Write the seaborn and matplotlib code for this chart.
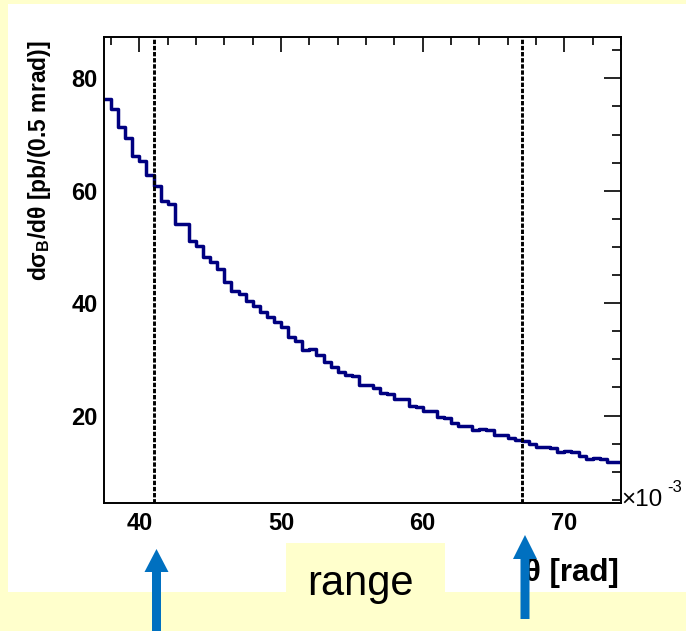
import numpy as np
import pandas as pd
import matplotlib
matplotlib.use("Agg")
import matplotlib.pyplot as plt
import seaborn as sns
from matplotlib.patches import Rectangle, Polygon
from matplotlib.ticker import FixedLocator, MultipleLocator

# ---------------- data ----------------
theta_start = 37.5      # x10^-3 rad
bin_width = 0.5         # mrad
dsigma = [76.3, 74.5, 71.4, 69.4, 66.2, 65.3, 62.8, 60.9, 58.2, 57.6,
          54.1, 54.0, 51.1, 50.2, 48.3, 47.3, 46.0, 43.8, 42.2, 41.6,
          40.3, 39.5, 38.4, 37.5, 36.6, 35.7, 34.0, 33.3, 31.6, 31.9,
          30.8, 29.6, 28.6, 27.8, 27.3, 27.0, 25.5, 25.4, 24.9, 24.0,
          23.9, 23.0, 22.9, 21.7, 21.6, 20.9, 20.8, 19.8, 19.6, 18.7,
          18.2, 18.1, 17.4, 17.7, 17.5, 16.6, 16.5, 16.1, 15.7, 15.4,
          14.9, 14.5, 14.4, 14.2, 13.5, 13.75, 13.5, 12.9, 12.35, 12.5,
          12.2, 11.8, 11.8]
cut_lines = [41.0, 67.0]
x_ticks = [40, 50, 60, 70]
y_ticks = [20, 40, 60, 80]
x_label = "θ [rad]"
y_label = r"dσ$_\mathbf{B}$/dθ [pb/(0.5 mrad)]"
box_text = "range"

n_bins = len(dsigma)
theta_end = theta_start + bin_width * n_bins
df = pd.DataFrame({"theta": theta_start + bin_width * (np.arange(n_bins) + 0.5),
                   "dsigma": dsigma})

# ---------------- style ----------------
sns.set_theme(style="white")
plt.rcParams["font.family"] = ["Liberation Sans", "DejaVu Sans"]
plt.rcParams["mathtext.fontset"] = "custom"
plt.rcParams["mathtext.rm"] = "Liberation Sans:bold"
plt.rcParams["mathtext.bf"] = "Liberation Sans:bold"
plt.rcParams["mathtext.it"] = "Liberation Sans:bold"

YELLOW = "#FFFFCC"
BLUE = "#0070C0"
NAVY = "#000080"

W, H = 686, 631
fig = plt.figure(figsize=(W / 100, H / 100), dpi=100)
fig.patch.set_facecolor(YELLOW)

def fx(px):
    return px / W

def fy(py):
    return 1 - py / H

# white slide panel
fig.add_artist(Rectangle((fx(8), fy(592)), fx(686) - fx(8), fy(4) - fy(592),
                         transform=fig.transFigure, facecolor="white",
                         edgecolor="none", zorder=-5))

# axes frame
L, R, T, B = 104, 621, 37.3, 503
ax = fig.add_axes([fx(L), fy(B), fx(R) - fx(L), fy(T) - fy(B)])
ax.set_facecolor("white")

sns.histplot(data=df, x="theta", weights="dsigma", bins=n_bins,
             binrange=(theta_start, theta_end),
             element="step", fill=False, color=NAVY, linewidth=2.5, ax=ax)

for c in cut_lines:
    ax.axvline(c, color="black", linewidth=2.1, linestyle=(0, (1.5, 0.6)), zorder=3)

ax.set_xlim(theta_start, theta_end)
ax.set_ylim(4.45, 87.3)
ax.set_xlabel("")
ax.set_ylabel("")

ax.xaxis.set_major_locator(FixedLocator(x_ticks))
ax.xaxis.set_minor_locator(MultipleLocator(2))
ax.yaxis.set_major_locator(FixedLocator(y_ticks))
ax.yaxis.set_minor_locator(MultipleLocator(5))
ax.set_xticklabels([str(t) for t in x_ticks], fontsize=17, fontweight="bold")
ax.set_yticklabels([str(t) for t in y_ticks], fontsize=17, fontweight="bold")

ax.tick_params(axis="both", which="both", direction="in", top=True, right=True,
               color="black", width=1.2, labelcolor="black")
ax.tick_params(axis="x", which="major", length=10.8, pad=6.5)
ax.tick_params(axis="x", which="minor", length=5.5)
ax.tick_params(axis="y", which="major", length=12, pad=4.5)
ax.tick_params(axis="y", which="minor", length=6.5)
for s in ax.spines.values():
    s.set_color("black")
    s.set_linewidth(1.4)
    s.set_visible(True)

# axis titles
fig.text(fx(40), fy(40), y_label, rotation=90, ha="center", va="top",
         fontweight="bold", fontsize=16.5, color="black")
fig.text(fx(619), fy(581), x_label, ha="right", va="baseline",
         fontweight="bold", fontsize=22.5, color="black", zorder=2)

# exponent
fig.text(fx(621), fy(506), "×10", ha="left", va="baseline", fontsize=17.5,
         color="black")
fig.text(fx(667), fy(492), "-3", ha="left", va="baseline", fontsize=12,
         color="black")

# "range" yellow box
fig.add_artist(Rectangle((fx(286), fy(593)), fx(445) - fx(286), fy(543) - fy(593),
                         transform=fig.transFigure, facecolor=YELLOW,
                         edgecolor="none", zorder=1))
fig.text(fx(360), fy(595), box_text, ha="center", va="baseline",
         fontsize=30, color="black", zorder=3)

# blue arrows
def arrow(cx, tip, base, bottom, shaft_w=9, head_w=24):
    pts = [(cx, tip), (cx + head_w / 2, base), (cx + shaft_w / 2, base),
           (cx + shaft_w / 2, bottom), (cx - shaft_w / 2, bottom),
           (cx - shaft_w / 2, base), (cx - head_w / 2, base)]
    fig.add_artist(Polygon([(fx(x), fy(y)) for x, y in pts], closed=True,
                           transform=fig.transFigure, facecolor=BLUE,
                           edgecolor="none", zorder=10))

arrow(156.5, 549, 572, 640)
arrow(525, 535, 559, 619)

fig.savefig("out.png", dpi=100, facecolor=fig.get_facecolor())
